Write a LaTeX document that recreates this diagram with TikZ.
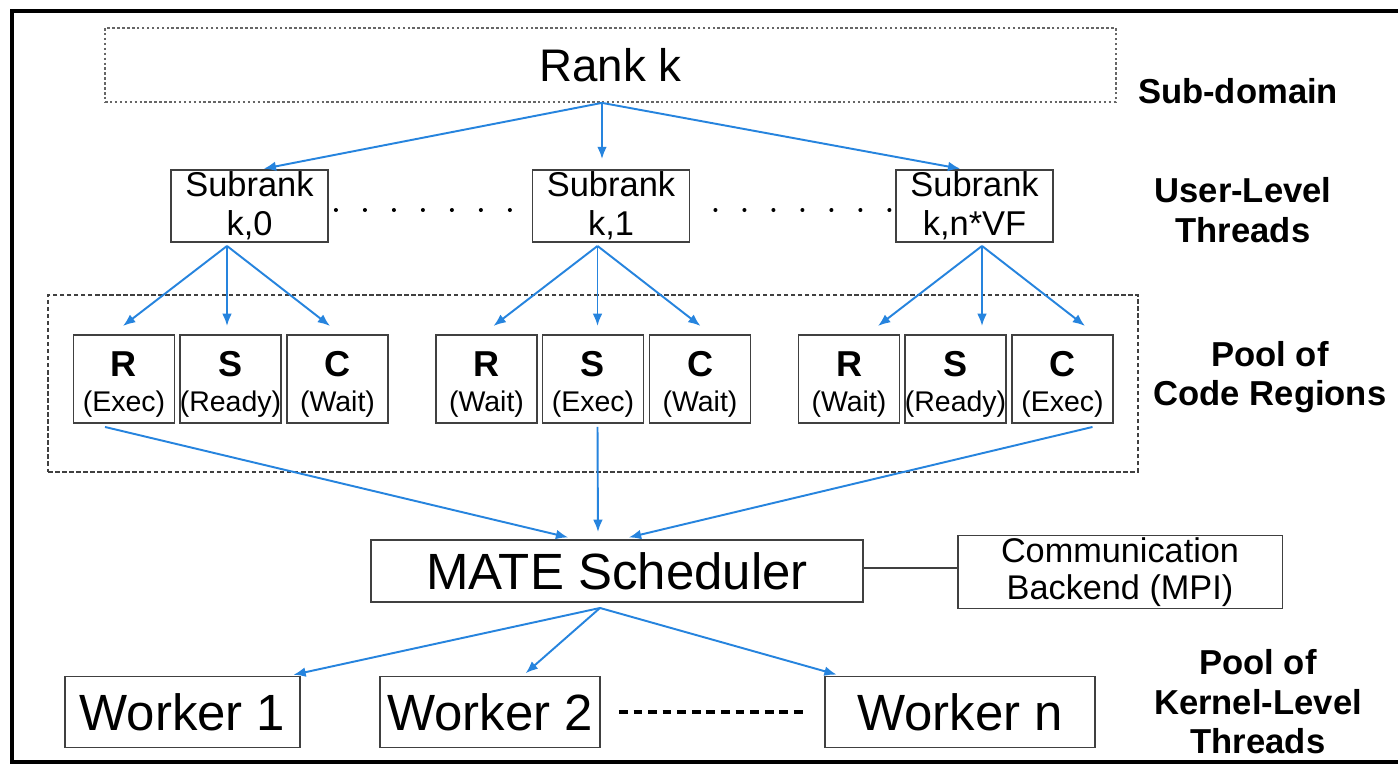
\documentclass[tikz,border=0pt]{standalone}
\usepackage{fontspec}
\setmainfont{Liberation Sans}
\usetikzlibrary{arrows.meta,calc}

\definecolor{flowblue}{RGB}{38,132,222}
\definecolor{boxgray}{RGB}{64,64,64}

\tikzset{
  box/.style={draw=boxgray, line width=1.1pt, inner sep=0pt, align=center},
  subrank/.style={box, minimum width=3.14cm, minimum height=1.44cm, font=\fontsize{19.6}{22}\selectfont},
  region/.style={box, minimum width=2.02cm, minimum height=1.76cm, font=\fontsize{16.2}{20}\selectfont},
  worker/.style={box, minimum height=1.42cm, font=\fontsize{29}{34}\selectfont},
  flow/.style={->, draw=flowblue, line width=1.1pt},
  level/.style={align=center, font=\bfseries\fontsize{19.7}{22.5}\selectfont},
  dotrow/.style={line width=2.3pt, line cap=round, dash pattern=on 0pt off 16.5pt},
}
% bold letter on top of a region box
\newcommand{\regname}[1]{\rule{0pt}{20pt}{\bfseries\fontsize{20.5}{20}\selectfont #1}}

\begin{document}
\begin{tikzpicture}[x=0.02cm, y=-0.02cm, >={Latex[length=7pt,width=5.5pt]}]
 \useasboundingbox (0,0) rectangle (1398,765);
 \fill[white] (0,0) rectangle (1398,765);
 \draw[line width=1.8pt] (1410,11) -- (12,11) -- (12,762) -- (1410,762);

 % rank k and its subranks
 \node[box, draw=boxgray!80, line width=1pt, dash pattern=on 1.4pt off 1.4pt,
       minimum width=20.22cm, minimum height=1.48cm, font=\fontsize{26}{30}\selectfont] (rank) at (610.5,65) {Rank k};
 \node[subrank] (sub0) at (249.5,206) {Subrank\\k,0};
 \node[subrank] (sub1) at (611,206) {Subrank\\k,1};
 \node[subrank] (sub2) at (974.5,206) {Subrank\\k,n*VF};

 \draw[flow, shorten >=1pt] ([xshift=-0.17cm]rank.south) -- ([xshift=0.25cm]sub0.north);
 \draw[flow, shorten >=0.2cm] ([xshift=-0.17cm]rank.south) -- ([xshift=-0.18cm]sub1.north);
 \draw[flow, shorten >=1pt] ([xshift=-0.17cm]rank.south) -- ([xshift=-0.25cm]sub2.north);

 \draw[dotrow, shorten <=0.14cm] ([yshift=-0.08cm]sub0.east) -- ([yshift=-0.08cm]sub1.west);
 \draw[dotrow, shorten <=0.5cm] ([yshift=-0.08cm]sub1.east) -- ([yshift=-0.08cm]sub2.west);

 % pool of code regions
 \node[draw=boxgray, line width=0.8pt, dash pattern=on 2.5pt off 1.5pt,
       minimum width=21.8cm, minimum height=3.54cm] (pool) at (593,383.5) {};
 \foreach \g/\x/\ra/\sa/\ca/\o in {0/124/Exec/Ready/Wait/-0.45, 1/486.5/Wait/Exec/Wait/-0.27, 2/849/Wait/Ready/Exec/0.15} {
   \node[region] (r\g) at (\x,379) {\regname{R}\\(\ra)};
   \node[region] (s\g) at (\x+106.5,379) {\regname{S}\\(\sa)};
   \node[region] (c\g) at (\x+213.5,379) {\regname{C}\\(\ca)};
   \coordinate (f\g) at ([xshift=\o cm, yshift=-0.06cm]sub\g.south);
   \draw[flow] (f\g) -- ($(f\g)+(-104,80)$);
   \draw[flow] (f\g) -- ($(f\g)+(0,80)$);
   \draw[flow] (f\g) -- ($(f\g)+(103,80)$);
 }

 % scheduler and backend
 \node[box, minimum width=9.84cm, minimum height=1.24cm, font=\fontsize{29}{34}\selectfont] (sched) at (617,571) {MATE Scheduler};
 \node[box, minimum width=6.5cm, minimum height=1.46cm, font=\fontsize{19.5}{21}\selectfont] (comm) at (1120,572) {Communication\\Backend (MPI)};
 \draw[boxgray, line width=1pt] ([yshift=0.06cm]sched.east) -- ([yshift=0.06cm]sched.east -| comm.west);

 \draw[flow, shorten >=4pt] ([xshift=-0.38cm, yshift=-0.06cm]r0.south) -- ([xshift=-0.84cm]sched.north);
 \draw[flow, shorten >=4pt] ([xshift=0.09cm, yshift=-0.06cm]s1.south) -- ([xshift=-0.38cm]sched.north);
 \draw[flow, shorten >=4pt] ([xshift=0.6cm, yshift=-0.06cm]c2.south) -- ([xshift=0.1cm]sched.north);

 % kernel-level workers
 \node[worker, minimum width=4.7cm] (w1) at (182.5,712) {Worker 1};
 \node[worker, minimum width=4.4cm] (w2) at (490,712) {Worker 2};
 \node[worker, minimum width=5.4cm] (wn) at (960,712) {Worker n};
 \draw[line width=2pt, dash pattern=on 5pt off 3.3pt, shorten <=0.36cm, shorten >=0.34cm] (w2.east) -- (wn.west);

 \draw[flow, shorten >=2pt] ([xshift=-0.34cm, yshift=-0.1cm]sched.south) -- ([xshift=2.15cm]w1.north);
 \draw[flow, shorten >=2pt] ([xshift=-0.34cm, yshift=-0.1cm]sched.south) -- ([xshift=0.66cm]w2.north);
 \draw[flow, shorten >=2pt] ([xshift=-0.34cm, yshift=-0.1cm]sched.south) -- ([xshift=-2.4cm]wn.north);

 % level labels
 \node[level] (lsub) at (1238,91) {Sub-domain};
 \node[level] (luser) at (1243,210) {User-Level\\Threads};
 \node[level] (lcode) at (1270,377) {Pool of\\Code Regions};
 \node[level] (lkern) at (1258,702) {Pool of\\Kernel-Level\\Threads};
\end{tikzpicture}
\end{document}
